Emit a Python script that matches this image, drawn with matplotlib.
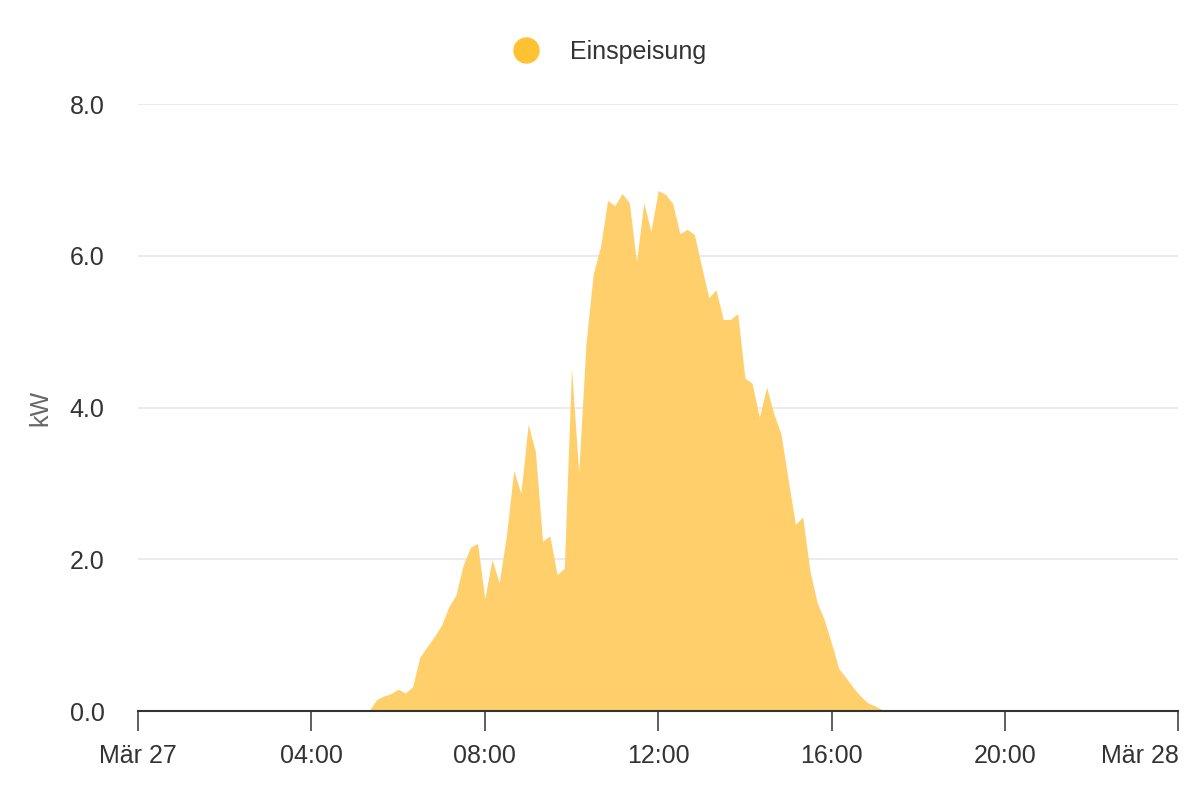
import matplotlib
matplotlib.use("Agg")
import matplotlib.pyplot as plt
from matplotlib.lines import Line2D
import pandas as pd

plt.rcParams['font.family'] = ['Liberation Sans', 'DejaVu Sans']

# Einspeisung in kW, 10-Minuten-Werte ab 05:10
start = "2025-03-27 05:10"
werte = [0.0, 0.01, 0.15, 0.20, 0.23, 0.29, 0.24, 0.32, 0.71, 0.85, 0.98,
         1.13, 1.37, 1.53, 1.92, 2.16, 2.21,
         1.48, 2.00, 1.69, 2.32, 3.17, 2.87,
         3.78, 3.42, 2.24, 2.31, 1.80, 1.88,
         4.52, 3.14, 4.84, 5.76, 6.11, 6.73,
         6.66, 6.82, 6.70, 5.92, 6.70, 6.32,
         6.86, 6.81, 6.69, 6.29, 6.35, 6.28,
         5.86, 5.45, 5.55, 5.16, 5.16, 5.24,
         4.39, 4.32, 3.87, 4.27, 3.92, 3.65,
         3.04, 2.46, 2.56, 1.85, 1.43, 1.20,
         0.89, 0.56, 0.44, 0.31, 0.20, 0.11,
         0.07, 0.02, 0.0]
zeiten = pd.date_range(start, periods=len(werte), freq="10min")

tick_zeiten = pd.date_range("2025-03-27 00:00", "2025-03-28 00:00", freq="4h")
tick_labels = ["Mär 27", "04:00", "08:00", "12:00", "16:00", "20:00", "Mär 28"]
y_ticks = [0, 2, 4, 6, 8]

fig = plt.figure(figsize=(12, 8), dpi=100)
ax = fig.add_axes([0.115, 0.111, 0.867, 0.759])

ax.fill_between(zeiten, werte, 0, color="#fecf6a", linewidth=0)

ax.set_xlim(tick_zeiten[0], tick_zeiten[-1])
ax.set_ylim(0, 8)
ax.set_xticks(tick_zeiten)
ax.set_xticklabels(tick_labels)
ax.set_yticks(y_ticks)
ax.set_yticklabels([f"{v:.1f}" for v in y_ticks])

ax.grid(axis="y", color="#e6e6e6", linewidth=1.1)
ax.set_axisbelow(True)
for s in ["top", "right", "left"]:
    ax.spines[s].set_visible(False)
ax.spines["bottom"].set_color("#333333")
ax.spines["bottom"].set_linewidth(1.5)
ax.spines["bottom"].set_zorder(5)

ax.tick_params(axis="x", length=14.5, width=1.1, color="#333333",
               labelsize=18, labelcolor="#333333", pad=9)
ax.tick_params(axis="y", length=0, labelsize=18, labelcolor="#333333", pad=24)
# letztes Label innerhalb des Bildes halten
ax.get_xticklabels()[-1].set_horizontalalignment("right")

ax.set_ylabel("kW", fontsize=18, color="#666666")
ax.yaxis.set_label_coords(-0.082, 0.5)

handle = Line2D([], [], marker="o", linestyle="none", color="#ffc233",
                markersize=18)
fig.legend([handle], ["Einspeisung"], loc="center", bbox_to_anchor=(0.503, 0.935),
           frameon=False, fontsize=18, labelcolor="#333333",
           handletextpad=0.75, borderpad=0)

fig.savefig("out.png", dpi=100, facecolor="white")
